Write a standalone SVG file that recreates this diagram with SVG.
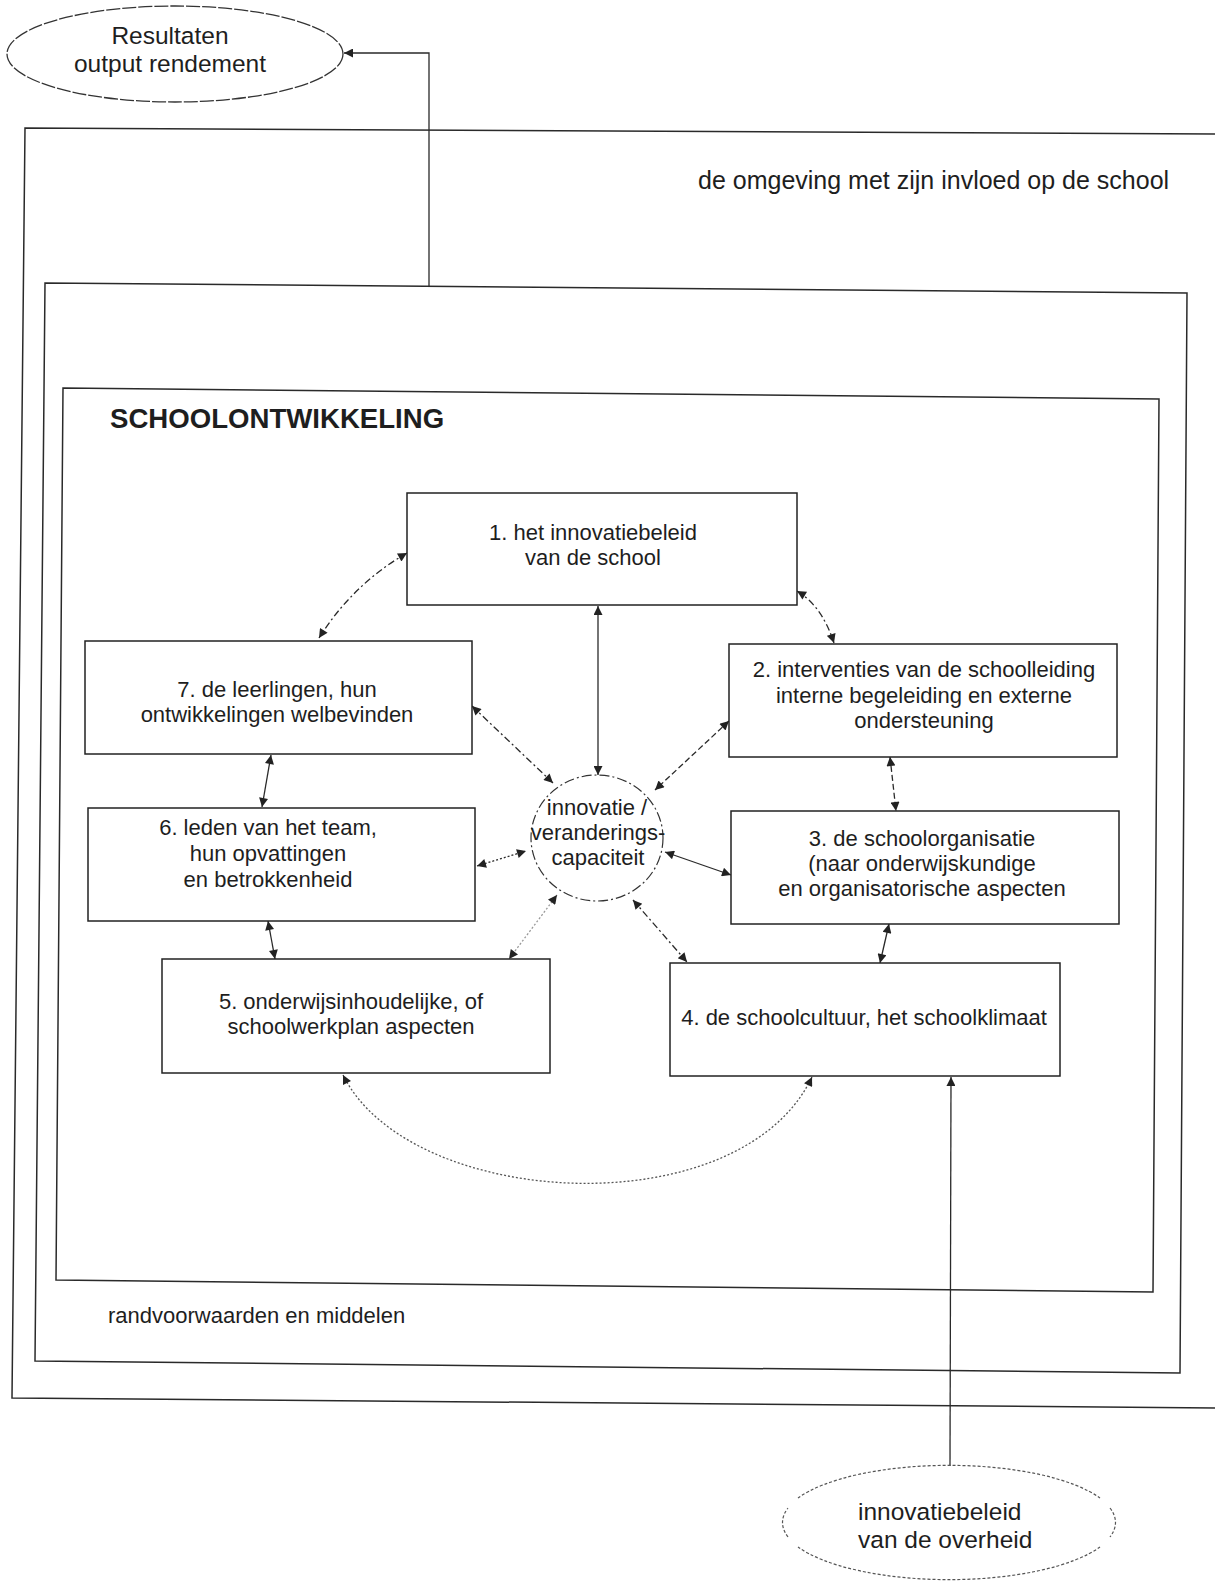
<svg xmlns="http://www.w3.org/2000/svg" width="1215" height="1584" viewBox="0 0 1215 1584">
<defs>
<marker id="ah" viewBox="0 0 10 10" refX="10" refY="5" markerWidth="11" markerHeight="9" markerUnits="userSpaceOnUse" orient="auto-start-reverse"><path d="M0,0 L10,5 L0,10 z" fill="#222"/></marker>
<style>
text{font-family:"Liberation Sans",Arial,sans-serif;fill:#1e1e1e}
.t{font-size:22px;text-anchor:middle}
.frame{fill:none;stroke:#2a2a2a;stroke-width:1.5}
.box{fill:#fff;stroke:#222;stroke-width:1.5}
.c{fill:none;stroke:#2a2a2a;stroke-width:1.3}
.both{marker-start:url(#ah);marker-end:url(#ah)}
.end{marker-end:url(#ah)}
.dd{stroke-dasharray:7 3 2 3}
.ds{stroke-dasharray:6 3}
.dt{stroke-dasharray:2 2}
.faint{stroke:#9a9a9a}
</style>
</defs>
<rect width="1215" height="1584" fill="#fff"/>

<g id="omgeving">
<path class="frame" d="M1215 134 L25 128 L12 1398 L1215 1408"/>
<text x="698" y="189" style="font-size:25px">de omgeving met zijn invloed op de school</text>
</g>
<g id="randvoorwaarden">
<path class="frame" d="M45 283 L1187 293 L1180 1373 L35 1361 Z"/>
<text x="108" y="1323" style="font-size:22px">randvoorwaarden en middelen</text>
</g>
<g id="schoolontwikkeling">
<path class="frame" d="M63 388 L1159 399 L1153 1292 L56 1280 Z"/>
<text x="110" y="428" style="font-size:27.6px;font-weight:bold">SCHOOLONTWIKKELING</text>
</g>

<g id="connectors">
<path class="c end" d="M429 287 L429 53 L344 53"/>
<path class="c dd both" d="M407 553 Q353 584 319 638"/>
<path class="c dd both" d="M797 591 Q822 606 834 643"/>
<path class="c both" d="M598 606 L598 775"/>
<path class="c dd both" d="M472 706 L553 783"/>
<path class="c ds both" d="M729 721 L655 790"/>
<path class="c dt both" d="M477 866 L526 851"/>
<path class="c both" d="M731 875 L665 852"/>
<path class="c dd both" d="M633 900 L687 962"/>
<path class="c dt faint both" d="M557 895 L509 959"/>
<path class="c both" d="M271 755 L262 807"/>
<path class="c both" d="M268 921 L275 959"/>
<path class="c ds both" d="M890 757 L896 811"/>
<path class="c both" d="M889 924 L880 963"/>
<path class="c dt both" style="stroke:#555" d="M343 1075 C410 1210 740 1228 812 1077"/>
<path class="c end" d="M950 1466 L951 1077"/>
</g>

<g id="resultaten">
<ellipse cx="175" cy="54" rx="168" ry="48" fill="none" stroke="#333" stroke-width="1.3" stroke-dasharray="14 2"/>
<text class="t" x="170" y="44" style="font-size:24.5px">Resultaten</text>
<text class="t" x="170" y="72" style="font-size:24.5px">output rendement</text>
</g>

<g id="n1">
<rect class="box" x="407" y="493" width="390" height="112"/>
<text class="t" x="593" y="540">1. het innovatiebeleid</text>
<text class="t" x="593" y="565">van de school</text>
</g>
<g id="n2">
<rect class="box" x="729" y="644" width="388" height="113"/>
<text class="t" x="924" y="677">2. interventies van de schoolleiding</text>
<text class="t" x="924" y="703">interne begeleiding en externe</text>
<text class="t" x="924" y="728">ondersteuning</text>
</g>
<g id="n3">
<rect class="box" x="731" y="811" width="388" height="113"/>
<text class="t" x="922" y="846">3. de schoolorganisatie</text>
<text class="t" x="922" y="871">(naar onderwijskundige</text>
<text class="t" x="922" y="896">en organisatorische aspecten</text>
</g>
<g id="n4">
<rect class="box" x="670" y="963" width="390" height="113"/>
<text class="t" x="864" y="1025">4. de schoolcultuur, het schoolklimaat</text>
</g>
<g id="n5">
<rect class="box" x="162" y="959" width="388" height="114"/>
<text class="t" x="351" y="1009">5. onderwijsinhoudelijke, of</text>
<text class="t" x="351" y="1034">schoolwerkplan aspecten</text>
</g>
<g id="n6">
<rect class="box" x="88" y="808" width="387" height="113"/>
<text class="t" x="268" y="835">6. leden van het team,</text>
<text class="t" x="268" y="861">hun opvattingen</text>
<text class="t" x="268" y="887">en betrokkenheid</text>
</g>
<g id="n7">
<rect class="box" x="85" y="641" width="387" height="113"/>
<text class="t" x="277" y="697">7. de leerlingen, hun</text>
<text class="t" x="277" y="722">ontwikkelingen welbevinden</text>
</g>
<g id="capaciteit">
<ellipse cx="597" cy="838" rx="66" ry="63" fill="none" stroke="#333" stroke-width="1.2" stroke-dasharray="10 3 2 3"/>
<text class="t" x="597" y="815">innovatie /</text>
<text class="t" x="598" y="840">veranderings-</text>
<text class="t" x="598" y="865">capaciteit</text>
</g>
<g id="overheid">
<g fill="none" stroke="#555" stroke-width="1.2" stroke-dasharray="3 2">
<path d="M798 1498 A167 57 0 0 1 1100 1498"/>
<path d="M1100 1547 A167 57 0 0 1 798 1547"/>
<path d="M788 1537 A167 57 0 0 1 788 1508"/>
<path d="M1110 1508 A167 57 0 0 1 1110 1537"/>
</g>
<text x="858" y="1520" style="font-size:24.5px">innovatiebeleid</text>
<text x="858" y="1548" style="font-size:24.5px">van de overheid</text>
</g>
</svg>
